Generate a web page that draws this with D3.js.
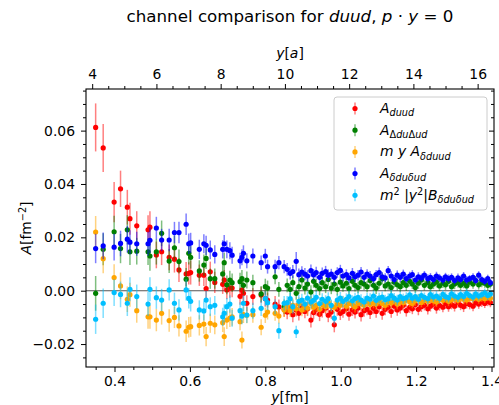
<!DOCTYPE html>
<html>
<head>
<meta charset="utf-8">
<script src="https://cdn.jsdelivr.net/npm/d3@7"></script>
<style>
body { margin: 0; background: #fff; }
text { font-family: "DejaVu Sans", sans-serif; fill: #000; }
</style>
</head>
<body>
<svg id="chart"></svg>
<script>
// separation y in fm (same points for every channel)
var yFm = [
  0.350,0.370,0.399,0.416,0.434,0.441,0.459,0.489,0.494,0.511,
  0.525,0.545,0.559,0.571,0.590,0.597,0.602,0.625,0.637,0.643,
  0.654,0.666,0.687,0.691,0.698,0.706,0.712,0.733,0.738,0.742,
  0.751,0.767,0.789,0.800,0.806,0.826,0.836,0.850,
  0.858,0.866,0.873,0.882,0.889,0.897,0.905,0.912,0.921,0.928,
  0.935,0.944,0.951,0.960,0.967,0.975,0.983,0.991,0.999,1.006,
  1.015,1.022,1.031,1.038,1.046,1.054,1.062,1.070,1.078,1.087,
  1.094,1.102,1.110,1.118,1.126,1.134,1.142,1.150,1.158,1.166,
  1.174,1.183,1.190,1.198,1.206,1.214,1.222,1.231,1.238,1.246,
  1.254,1.262,1.271,1.278,1.286,1.294,1.302,1.311,1.318,1.326,
  1.334,1.342,1.351,1.358,1.366,1.374,1.382,1.390,1.397
];
var latticeA = 0.0852; // fm, for the top axis

// amplitudes and errors, in units of 1e-4 fm^-2
var aDuud = [
  612,535,332,382,313,270,243,228,238,134,
  146,125,118,78,63,65,68,58,58,8,
  71,31,24,40,3,10,10,-21,2,-10,
  -47,-22,-16,-30,-35,-50,-61,-70,
  -80,-65,-90,-72,-85,-60,-78,-68,-110,-82,
  -70,-88,-75,-65,-92,-80,-128,-70,-85,-78,
  -68,-88,-72,-80,-65,-90,-75,-70,-82,-66,
  -78,-60,-85,-70,-62,-78,-58,-72,-65,-55,
  -75,-62,-68,-52,-70,-60,-55,-68,-58,-50,
  -65,-55,-62,-48,-60,-52,-58,-45,-55,-60,
  -48,-52,-58,-45,-50,-42,-48,-40,-45
];
var aDuudErr = [
  90,90,75,68,65,60,55,55,60,50,
  50,48,50,45,45,42,45,40,40,42,
  38,40,36,38,35,36,35,32,34,32,
  30,32,30,30,28,30,28,28,
  27,26,28,25,27,26,25,27,28,25,
  24,26,25,24,26,25,28,24,25,23,
  24,25,23,24,22,25,23,22,24,22,
  23,21,24,22,21,23,20,22,21,20,
  22,21,20,21,22,20,19,21,20,19,
  21,20,19,20,19,18,20,19,18,20,
  19,18,19,17,18,19,17,18,17
];
var aDelta = [
  -10,155,221,158,228,146,148,146,130,146,
  215,111,161,109,43,140,125,74,96,121,
  45,45,63,105,22,40,30,34,45,20,
  40,30,-12,15,10,52,5,-60,
  20,5,30,-10,15,40,10,25,-5,35,
  20,8,30,15,42,10,25,5,32,18,
  28,8,35,20,12,30,25,15,38,20,
  10,28,45,18,25,12,32,22,15,30,
  20,35,25,12,28,40,20,30,15,25,
  32,18,28,22,35,15,25,30,20,28,
  18,32,25,38,22,30,28,20,25
];
var aDeltaErr = [
  65,60,60,55,55,50,50,50,55,48,
  48,45,45,45,42,42,42,40,40,40,
  38,38,36,36,35,35,34,33,33,32,
  32,30,30,30,28,28,28,27,
  26,25,27,24,26,25,24,26,25,24,
  24,25,23,24,25,23,24,23,24,22,
  23,24,22,23,22,23,22,21,23,21,
  22,21,22,20,21,22,20,21,20,20,
  21,20,19,20,21,19,19,20,19,19,
  20,19,18,19,19,18,19,18,18,19,
  18,17,18,17,18,17,17,18,17
];
var myAdelta = [
  220,120,49,18,-32,-15,-75,-98,-98,-110,
  -85,-112,-100,-132,-152,-137,-135,-130,-125,-172,
  -122,-128,-120,-172,-110,-103,-98,-116,-185,-90,
  -92,-90,-137,-92,-80,-85,-95,-72,
  -60,-75,-55,-68,-50,-72,-58,-65,-48,-62,
  -55,-70,-52,-60,-45,-58,-62,-50,-55,-42,
  -58,-48,-52,-60,-45,-50,-55,-40,-52,-46,
  -50,-38,-48,-55,-42,-46,-36,-50,-40,-45,
  -35,-42,-48,-38,-32,-44,-36,-40,-30,-38,
  -42,-32,-36,-28,-40,-34,-30,-36,-26,-32,
  -35,-28,-30,-24,-32,-26,-30,-22,-28
];
var myAdeltaErr = [
  60,55,50,50,48,45,45,45,45,42,
  42,42,40,40,40,38,38,38,36,36,
  36,35,35,35,34,33,33,32,32,31,
  30,30,30,29,28,28,28,27,
  25,24,26,23,25,24,23,25,24,23,
  23,24,22,23,24,22,23,22,23,21,
  22,23,21,22,21,22,21,20,22,20,
  21,20,21,19,20,21,19,20,19,19,
  20,19,18,19,20,18,18,19,18,18,
  19,18,17,18,18,17,18,17,17,18,
  17,16,17,16,17,16,16,17,16
];
var aDeltaDelta = [
  158,168,163,177,193,182,176,176,189,235,
  190,190,218,218,249,176,179,155,176,170,
  153,136,155,176,155,150,133,112,125,140,
  112,130,105,130,90,90,105,90,
  80,65,72,110,60,70,62,55,75,60,
  68,50,65,72,58,62,50,68,76,55,
  60,48,65,52,58,70,50,62,55,45,
  60,68,52,48,75,55,42,58,50,62,
  45,55,60,40,52,48,58,45,50,42,
  55,48,40,52,45,50,38,48,42,55,
  40,45,50,38,58,42,35,45,30
];
var aDeltaDeltaErr = [
  55,50,50,48,50,45,45,45,48,42,
  42,42,40,40,40,38,38,36,36,36,
  35,34,34,33,33,32,32,30,30,30,
  28,28,27,27,26,26,25,25,
  24,23,24,35,23,22,23,22,23,21,
  22,21,22,21,22,20,21,20,21,20,
  20,19,20,19,20,19,19,18,19,18,
  18,19,18,17,18,18,17,18,17,17,
  17,16,17,16,17,16,16,17,16,16,
  16,15,16,15,16,15,15,16,15,15,
  15,14,15,14,15,14,14,15,14
];
var bDeltaDelta = [
  -107,-47,-7,-14,-47,5,-22,-50,5,-26,
  -35,3,-47,-72,3,-29,-40,-72,-76,-35,
  -60,-55,-98,-85,-60,-50,-103,-75,-95,-47,
  -91,-75,-66,-30,-45,-60,-150,-47,
  -45,-30,-60,-154,-40,-35,-50,-28,-42,-36,
  -25,-48,-32,-40,-30,-55,-103,-35,-28,-40,
  -32,-22,-38,-30,-25,-35,-42,-28,-32,-20,
  -36,-28,-24,-34,-30,-18,-28,-35,-22,-30,
  -26,-16,-28,-22,-32,-18,-25,-30,-15,-24,
  -20,-28,-14,-22,-26,-12,-20,-25,-15,-22,
  -10,-18,-24,-12,-20,-15,-8,-18,-12
];
var bDeltaDeltaErr = [
  55,55,50,48,48,45,45,45,45,42,
  42,40,40,40,40,38,38,36,36,36,
  35,35,34,34,33,33,32,32,31,30,
  30,30,29,28,28,28,30,27,
  25,24,26,23,25,24,23,25,24,23,
  23,24,22,23,24,22,23,22,23,21,
  22,23,21,22,21,22,21,20,22,20,
  21,20,21,19,20,21,19,20,19,19,
  20,19,18,19,20,18,18,19,18,18,
  19,18,17,18,18,17,18,17,17,18,
  17,16,17,16,17,16,16,17,16
];
var unit = 1e-4;

var xTicks = [0.4,0.6,0.8,1.0,1.2,1.4];
var xTopTicks = [4,6,8,10,12,14,16];
var yTicks = [-0.02,0.00,0.02,0.04,0.06];

// label pieces: i = italic, sub / sup = script
var series = [
  {vals:aDuud, errs:aDuudErr, color:'red',
   label:[{t:'A',i:1},{t:'duud',i:1,sub:1}]},
  {vals:aDelta, errs:aDeltaErr, color:'green',
   label:[{t:'A',i:1},{t:'\u0394',sub:1},{t:'du',i:1,sub:1},{t:'\u0394',sub:1},{t:'ud',i:1,sub:1}]},
  {vals:myAdelta, errs:myAdeltaErr, color:'orange',
   label:[{t:'m y A',i:1},{t:'\u03b4duud',i:1,sub:1}]},
  {vals:aDeltaDelta, errs:aDeltaDeltaErr, color:'blue',
   label:[{t:'A',i:1},{t:'\u03b4du\u03b4ud',i:1,sub:1}]},
  {vals:bDeltaDelta, errs:bDeltaDeltaErr, color:'deepskyblue',
   label:[{t:'m',i:1},{t:'2',sup:1},{t:' |'},{t:'y',i:1},{t:'2',sup:1},{t:'|'},{t:'B',i:1},{t:'\u03b4du\u03b4ud',i:1,sub:1}]}
];

var W = 499, H = 405;
var margin = {top:89, right:5, bottom:38, left:86};
var fs = 13.9;

var svg = d3.select('#chart').attr('width', W).attr('height', H);

var x = d3.scaleLinear().domain([0.3244, 1.4066]).range([margin.left, W - margin.right]);
var xTop = d3.scaleLinear().domain([0.3244 / latticeA, 1.4066 / latticeA]).range([margin.left, W - margin.right]);
var y = d3.scaleLinear().domain([-0.0286, 0.0756]).range([H - margin.bottom, margin.top]);

// rich text helper
var addParts = function(sel, parts, size)
{
  var shift = 0;
  parts.forEach(function(p)
  {
    var ts = sel.append('tspan').text(p.t);
    var target = p.sub ? size * 0.24 : (p.sup ? -size * 0.36 : 0);
    ts.attr('dy', target - shift);
    shift = target;
    if (p.sub || p.sup) ts.style('font-size', (size * 0.7) + 'px');
    if (p.i) ts.style('font-style', 'italic');
  });
};

// zero line
svg.append('line')
  .attr('x1', margin.left).attr('x2', W - margin.right)
  .attr('y1', y(0)).attr('y2', y(0))
  .attr('stroke', '#555').attr('stroke-width', 1.1);

// data
series.forEach(function(s)
{
  var pts = yFm.map(function(xv, i)
  {
    return {x: xv, v: s.vals[i] * unit, e: s.errs[i] * unit};
  });
  var g = svg.append('g');
  g.selectAll('line').data(pts).enter().append('line')
    .attr('x1', function(d){ return x(d.x); })
    .attr('x2', function(d){ return x(d.x); })
    .attr('y1', function(d){ return y(d.v - d.e); })
    .attr('y2', function(d){ return y(d.v + d.e); })
    .attr('stroke', s.color).attr('stroke-opacity', 0.5).attr('stroke-width', 1.5);
  g.selectAll('circle').data(pts).enter().append('circle')
    .attr('cx', function(d){ return x(d.x); })
    .attr('cy', function(d){ return y(d.v); })
    .attr('r', 2.6)
    .attr('fill', s.color);
});

// axes
var styleAxis = function(g)
{
  g.select('.domain').remove();
  g.selectAll('line').attr('stroke', '#000').attr('stroke-width', 1);
  g.selectAll('text').style('font-size', fs + 'px').attr('fill', '#000');
};
var minorRange = function(a, b, step, majors)
{
  return d3.range(a, b + step / 2, step).filter(function(v)
  {
    return !majors.some(function(m){ return Math.abs(m - v) < 1e-9; });
  });
};

var bottomY = H - margin.bottom;
svg.append('g').attr('transform', 'translate(0,' + bottomY + ')')
  .call(d3.axisBottom(x).tickValues(xTicks).tickFormat(d3.format('.1f')).tickSize(5).tickPadding(4.5))
  .call(styleAxis);
svg.append('g').attr('transform', 'translate(0,' + bottomY + ')')
  .call(d3.axisBottom(x).tickValues(minorRange(0.35, 1.40, 0.05, xTicks)).tickFormat('').tickSize(3))
  .call(styleAxis);

svg.append('g').attr('transform', 'translate(0,' + margin.top + ')')
  .call(d3.axisTop(xTop).tickValues(xTopTicks).tickFormat(d3.format('d')).tickSize(5).tickPadding(5))
  .call(styleAxis);
svg.append('g').attr('transform', 'translate(0,' + margin.top + ')')
  .call(d3.axisTop(xTop).tickValues(minorRange(4.5, 16, 0.5, xTopTicks)).tickFormat('').tickSize(3))
  .call(styleAxis);

svg.append('g').attr('transform', 'translate(' + margin.left + ',0)')
  .call(d3.axisLeft(y).tickValues(yTicks).tickFormat(d3.format('.2f')).tickSize(5).tickPadding(6))
  .call(styleAxis);
svg.append('g').attr('transform', 'translate(' + margin.left + ',0)')
  .call(d3.axisLeft(y).tickValues(minorRange(-0.025, 0.075, 0.005, yTicks)).tickFormat('').tickSize(3))
  .call(styleAxis);

// right side ticks point inward
var rightX = W - margin.right;
svg.append('g').attr('transform', 'translate(' + rightX + ',0)')
  .call(d3.axisLeft(y).tickValues(yTicks).tickFormat('').tickSize(5))
  .call(styleAxis);
svg.append('g').attr('transform', 'translate(' + rightX + ',0)')
  .call(d3.axisLeft(y).tickValues(minorRange(-0.025, 0.075, 0.005, yTicks)).tickFormat('').tickSize(3))
  .call(styleAxis);

// frame
svg.append('rect')
  .attr('x', margin.left).attr('y', margin.top)
  .attr('width', W - margin.right - margin.left)
  .attr('height', H - margin.bottom - margin.top)
  .attr('fill', 'none').attr('stroke', '#000').attr('stroke-width', 1.1);

var midX = (margin.left + W - margin.right) / 2;

// title and labels
var title = svg.append('text').attr('x', midX).attr('y', 22)
  .attr('text-anchor', 'middle').style('font-size', '16.7px');
addParts(title, [{t:'channel comparison for '},{t:'duud',i:1},{t:', '},{t:'p',i:1},{t:' \u00b7 '},{t:'y',i:1},{t:' = 0'}], 16.7);

var topLab = svg.append('text').attr('x', midX).attr('y', 58)
  .attr('text-anchor', 'middle').style('font-size', fs + 'px');
addParts(topLab, [{t:'y',i:1},{t:'['},{t:'a',i:1},{t:']'}], fs);

var botLab = svg.append('text').attr('x', midX).attr('y', 402)
  .attr('text-anchor', 'middle').style('font-size', fs + 'px');
addParts(botLab, [{t:'y',i:1},{t:'[fm]'}], fs);

var yLab = svg.append('text')
  .attr('transform', 'translate(31,' + ((margin.top + H - margin.bottom) / 2) + ') rotate(-90)')
  .attr('text-anchor', 'middle').style('font-size', fs + 'px');
addParts(yLab, [{t:'A',i:1},{t:'[fm'},{t:'\u22122',sup:1},{t:']'}], fs);

// legend
var legend = svg.append('g').attr('transform', 'translate(334,97)');
legend.append('rect')
  .attr('width', 153).attr('height', 113).attr('rx', 3)
  .attr('fill', '#fff').attr('fill-opacity', 0.8)
  .attr('stroke', '#ccc').attr('stroke-width', 1);
var rows = legend.selectAll('g.row').data(series).enter().append('g')
  .attr('class', 'row')
  .attr('transform', function(d, i){ return 'translate(0,' + (11.5 + i * 21.7) + ')'; });
rows.append('line')
  .attr('x1', 21).attr('x2', 21).attr('y1', -6).attr('y2', 6)
  .attr('stroke', function(d){ return d.color; })
  .attr('stroke-opacity', 0.5).attr('stroke-width', 1.5);
rows.append('circle').attr('cx', 21).attr('cy', 0).attr('r', 2.6)
  .attr('fill', function(d){ return d.color; });
rows.append('text').attr('x', 46).attr('y', 4.5)
  .style('font-size', fs + 'px')
  .each(function(d){ addParts(d3.select(this), d.label, fs); });
</script>
</body>
</html>
